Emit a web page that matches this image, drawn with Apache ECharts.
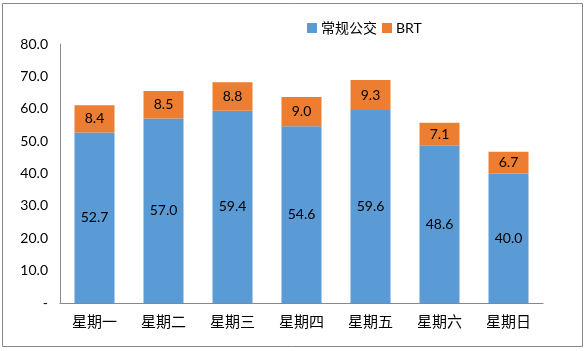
<!DOCTYPE html>
<html><head><meta charset="utf-8">
<script src="https://cdn.jsdelivr.net/npm/echarts@6/dist/echarts.min.js"></script>
<style>html,body{margin:0;padding:0;background:#fff}#c{width:586px;height:351px}</style>
</head><body><div id="c"></div>
<script>
const categories = ['星期一','星期二','星期三','星期四','星期五','星期六','星期日'];
const regularBus = [52.7, 57.0, 59.4, 54.6, 59.6, 48.6, 40.0];
const brt = [8.4, 8.5, 8.8, 9.0, 9.3, 7.1, 6.7];
const seriesNames = ['常规公交', 'BRT'];
const yTicks = [0, 10, 20, 30, 40, 50, 60, 70, 80];

const chart = echarts.init(document.getElementById('c'), null, {renderer: 'canvas'});
const font = "Lato, 'Noto Sans', 'Noto Sans CJK SC', sans-serif";
const lbl = {show: true, position: 'inside', color: '#000', fontSize: 14, fontFamily: font,
  formatter: p => p.value.toFixed(1)};
chart.setOption({
  animation: false,
  graphic: [{type: 'rect', shape: {x: 2.5, y: 3.5, width: 580, height: 343},
    style: {fill: 'none', stroke: '#888', lineWidth: 1}, silent: true}],
  legend: {
    data: seriesNames, left: 302, top: 16, itemWidth: 10, itemHeight: 10, itemGap: 5,
    icon: 'rect', textStyle: {fontSize: 14, fontFamily: font, color: '#000', padding: [0,0,0,-1]}
  },
  grid: {left: 60, right: 43, top: 44, bottom: 48, containLabel: false},
  xAxis: {
    type: 'category', data: categories,
    axisLine: {lineStyle: {color: '#888'}}, axisTick: {show: false},
    axisLabel: {color: '#000', fontSize: 15, fontFamily: "'Noto Sans CJK SC', sans-serif", margin: 11}
  },
  yAxis: {
    type: 'value', min: 0, max: 80, interval: 10,
    axisLine: {show: true, lineStyle: {color: '#888'}}, axisTick: {show: false},
    splitLine: {show: false},
    axisLabel: {color: '#000', fontSize: 14, fontFamily: font, margin: 12,
      formatter: v => yTicks.includes(v) ? (v === 0 ? '-' : v.toFixed(1)) : ''}
  },
  series: [
    {name: seriesNames[0], type: 'bar', stack: 's', data: regularBus, barWidth: 40,
     itemStyle: {color: '#5B9BD5'}, label: lbl},
    {name: seriesNames[1], type: 'bar', stack: 's', data: brt, barWidth: 40,
     itemStyle: {color: '#ED7D31'}, label: lbl}
  ]
});
</script></body></html>
